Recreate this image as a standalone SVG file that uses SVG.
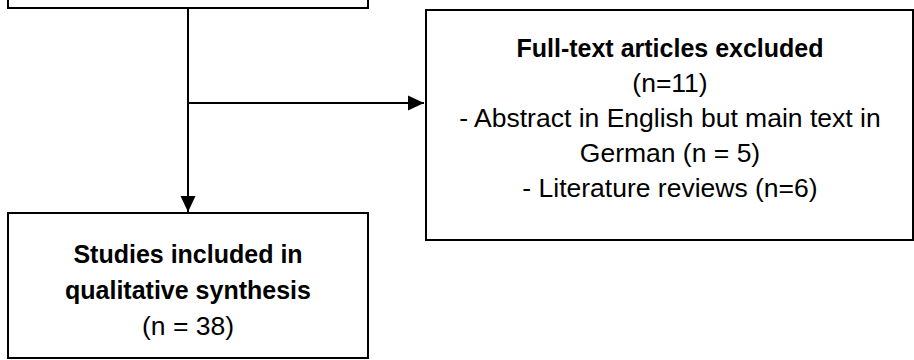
<svg xmlns="http://www.w3.org/2000/svg" width="914" height="360" viewBox="0 0 914 360">
<style>
.box{fill:#fff;stroke:#000;stroke-width:2}
.conn{fill:none;stroke:#000;stroke-width:2}
text{font-family:"Liberation Sans",Arial,sans-serif;fill:#000;text-anchor:middle}
.b{font-weight:bold;font-size:25px}
.r{font-size:26.5px}
</style>
<defs>
<marker id="ah" viewBox="0 0 16 16" refX="16" refY="8" markerWidth="16" markerHeight="16" markerUnits="userSpaceOnUse" orient="auto">
<path d="M0,0.5 L16,8 L0,15.5 Z" fill="#000"/>
</marker>
</defs>
<rect width="914" height="360" fill="#fff"/>
<g id="top-box"><rect class="box" x="8" y="-20" width="360" height="28"/></g>
<g id="excluded">
<rect class="box" x="426" y="10" width="487" height="230"/>
<text class="b" x="670" y="57">Full-text articles excluded</text>
<text class="r" x="670" y="92">(n=11)</text>
<text class="r" x="670" y="127">- Abstract in English but main text in</text>
<text class="r" x="670" y="162">German (n = 5)</text>
<text class="r" x="670" y="197">- Literature reviews (n=6)</text>
</g>
<g id="included">
<rect class="box" x="8" y="213" width="360" height="145"/>
<text class="b" x="188" y="263">Studies included in</text>
<text class="b" x="188" y="299">qualitative synthesis</text>
<text class="r" x="188" y="335">(n = 38)</text>
</g>
<g id="connectors">
<path class="conn" d="M188 8 V212" marker-end="url(#ah)"/>
<path class="conn" d="M188 103 H424" marker-end="url(#ah)"/>
</g>
</svg>
